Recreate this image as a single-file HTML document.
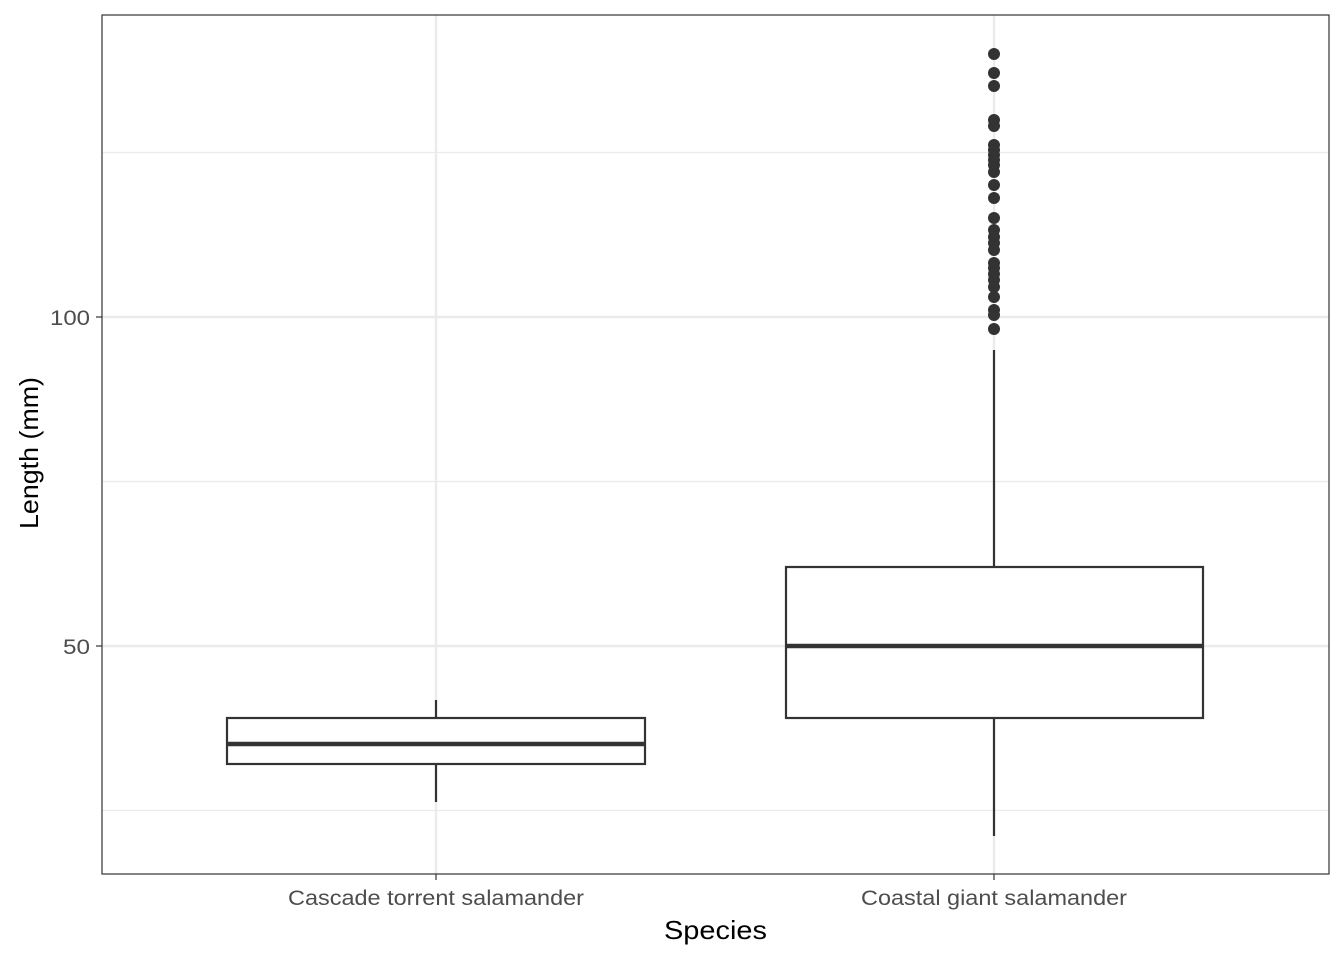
<!DOCTYPE html>
<html><head><meta charset="utf-8"><style>body{margin:0;background:#fff}</style></head><body>
<svg width="1344" height="960" xmlns="http://www.w3.org/2000/svg" font-family="Liberation Sans, sans-serif">
<rect width="1344" height="960" fill="#fff"/>
<g stroke="#ebebeb" stroke-width="1.2">
<line x1="102" x2="1329" y1="152.5" y2="152.5"/><line x1="102" x2="1329" y1="481.5" y2="481.5"/><line x1="102" x2="1329" y1="810.5" y2="810.5"/>
</g>
<g stroke="#ebebeb" stroke-width="2.4">
<line x1="102" x2="1329" y1="317" y2="317"/><line x1="102" x2="1329" y1="646" y2="646"/>
<line x1="436" x2="436" y1="15" y2="874"/><line x1="994" x2="994" y1="15" y2="874"/>
</g>
<g stroke="#333" stroke-width="2.2" fill="#fff">
<line x1="436" x2="436" y1="700" y2="718"/><line x1="436" x2="436" y1="764" y2="802"/>
<rect x="227" y="718" width="418" height="46"/>
<line x1="994" x2="994" y1="350" y2="567"/><line x1="994" x2="994" y1="718" y2="836"/>
<rect x="786" y="567" width="417" height="151"/>
</g>
<g stroke="#333" stroke-width="4.5">
<line x1="227" x2="645" y1="744" y2="744"/><line x1="786" x2="1203" y1="646" y2="646"/>
</g>
<g fill="#333">
<circle cx="994" cy="54" r="6"/><circle cx="994" cy="73" r="6"/><circle cx="994" cy="86" r="6"/><circle cx="994" cy="120" r="6"/><circle cx="994" cy="126" r="6"/><circle cx="994" cy="145" r="6"/><circle cx="994" cy="150" r="6"/><circle cx="994" cy="155" r="6"/><circle cx="994" cy="160" r="6"/><circle cx="994" cy="165" r="6"/><circle cx="994" cy="172" r="6"/><circle cx="994" cy="185" r="6"/><circle cx="994" cy="198" r="6"/><circle cx="994" cy="218" r="6"/><circle cx="994" cy="230" r="6"/><circle cx="994" cy="237" r="6"/><circle cx="994" cy="243" r="6"/><circle cx="994" cy="250" r="6"/><circle cx="994" cy="263" r="6"/><circle cx="994" cy="268" r="6"/><circle cx="994" cy="274" r="6"/><circle cx="994" cy="280" r="6"/><circle cx="994" cy="287" r="6"/><circle cx="994" cy="297" r="6"/><circle cx="994" cy="310" r="6"/><circle cx="994" cy="315" r="6"/><circle cx="994" cy="329" r="6"/>
</g>
<rect x="102" y="15" width="1227" height="859" fill="none" stroke="#333" stroke-width="1.2"/>
<g stroke="#333" stroke-width="1.2">
<line x1="96" x2="102" y1="317" y2="317"/><line x1="96" x2="102" y1="646" y2="646"/>
<line x1="436" x2="436" y1="874" y2="880"/><line x1="994" x2="994" y1="874" y2="880"/>
</g>
<g fill="#4d4d4d" font-size="21">
<text x="50" y="325" textLength="40" lengthAdjust="spacingAndGlyphs">100</text><text x="63" y="654" textLength="27" lengthAdjust="spacingAndGlyphs">50</text>
<text x="288" y="905" textLength="296" lengthAdjust="spacingAndGlyphs">Cascade torrent salamander</text>
<text x="861" y="905" textLength="266" lengthAdjust="spacingAndGlyphs">Coastal giant salamander</text>
</g>
<text x="664" y="939" font-size="26" textLength="103" lengthAdjust="spacingAndGlyphs">Species</text>
<text transform="translate(38,529) rotate(-90)" font-size="26" textLength="152" lengthAdjust="spacingAndGlyphs">Length (mm)</text>
</svg>
</body></html>
